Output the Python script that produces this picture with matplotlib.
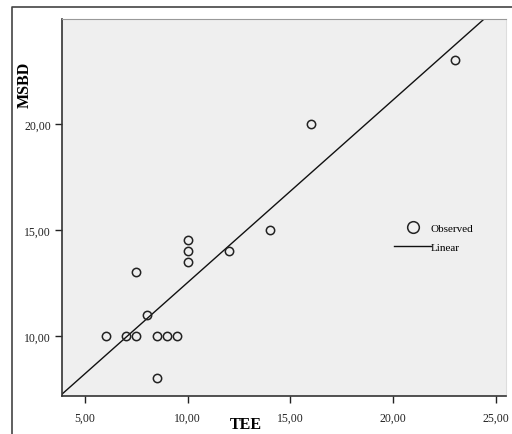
import numpy as np
import matplotlib
matplotlib.use("Agg")
import matplotlib.pyplot as plt
from matplotlib.lines import Line2D
from matplotlib.ticker import FuncFormatter

tee = [6, 7, 7.5, 8.5, 9, 9.5, 7.5, 8, 8.5, 10, 10, 10, 12, 14, 16, 23]
msbd = [10, 10, 10, 10, 10, 10, 13, 11, 8, 14.5, 14, 13.5, 14, 15, 20, 23]
x_ticks = [5, 10, 15, 20, 25]
y_ticks = [10, 15, 20]

plt.rcParams['font.family'] = ['Liberation Serif', 'DejaVu Serif']

fig = plt.figure(figsize=(5.12, 4.35), dpi=100)
ax = fig.add_axes([0.121, 0.0874, 0.867, 0.867])
ax.set_facecolor('#efefef')

# linear fit
slope, intercept = np.polyfit(tee, msbd, 1)
xl = np.array([3.0, 27.0])

ax.plot(tee, msbd, 'o', mfc='none', mec='#222222', mew=1.1, ms=6, ls='none',
        label='Observed', zorder=3)
ax.plot(xl, slope * xl + intercept, '-', color='#111111', lw=1.0, label='Linear')

ax.set_xlim(3.87, 25.5)
ax.set_ylim(7.17, 24.95)
ax.set_xticks(x_ticks)
ax.set_yticks(y_ticks)
fmt = FuncFormatter(lambda v, p: f"{v:.2f}".replace('.', ','))
ax.xaxis.set_major_formatter(fmt)
ax.yaxis.set_major_formatter(fmt)
ax.tick_params(direction='out', length=5, width=1, labelsize=8.5, colors='#222222')
ax.tick_params(axis='x', pad=6)
ax.tick_params(axis='y', pad=3)

for s in ['left', 'bottom']:
    ax.spines[s].set_color('#333333')
    ax.spines[s].set_linewidth(1.2)
ax.spines['top'].set_color('#999999')
ax.spines['right'].set_color('#dddddd')

ax.set_xlabel('TEE', fontsize=11.5, fontweight='bold')
ax.set_ylabel('MSBD', fontsize=11.5, fontweight='bold')
ax.xaxis.set_label_coords(0.414, -0.054)
ax.yaxis.set_label_coords(-0.065, 0.828)

leg = ax.legend(loc='center left', bbox_to_anchor=(0.726, 0.42), frameon=False,
                fontsize=8, markerscale=1.4, handlelength=3.3, handletextpad=0.0,
                labelspacing=0.8)

# outer frame
fig.add_artist(Line2D([12 / 512, 12 / 512, 1.0], [0.0, 1 - 8 / 435, 1 - 8 / 435],
                      transform=fig.transFigure, color='#444444', lw=1.2))

fig.savefig('out.png', dpi=100)
